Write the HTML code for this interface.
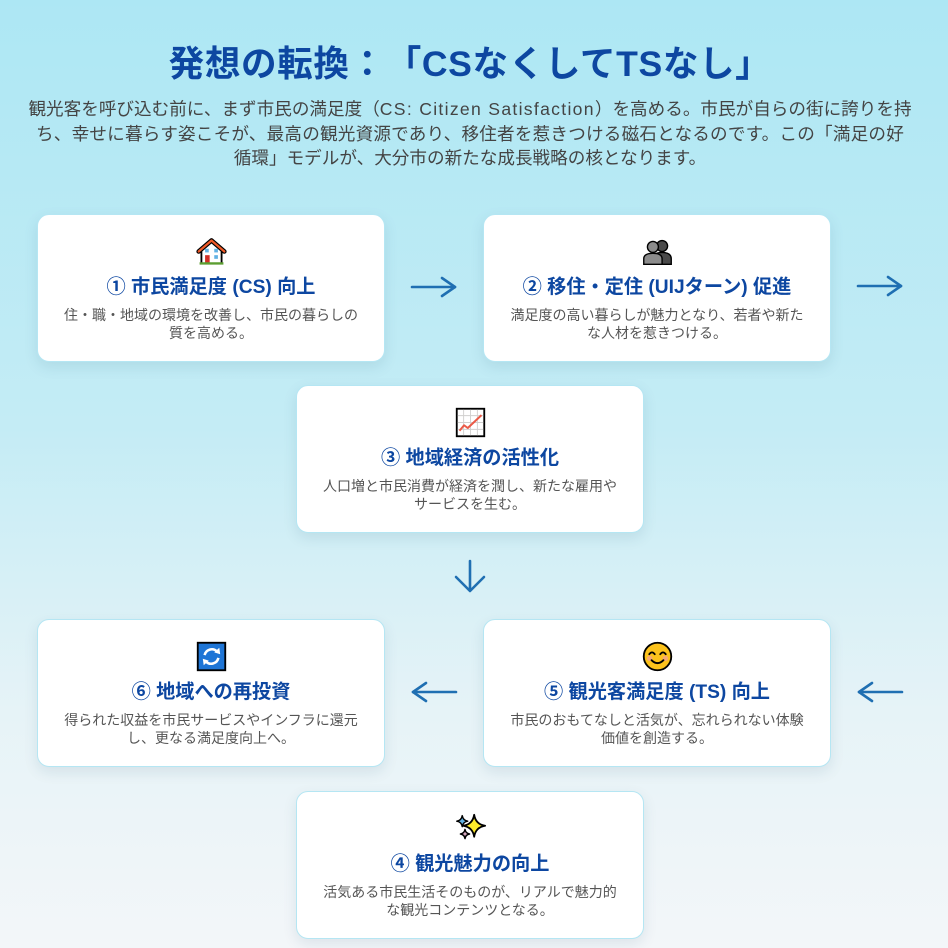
<!DOCTYPE html>
<html lang="ja">
<head>
<meta charset="utf-8">
<style>
  html,body{margin:0;padding:0;}
  body{
    width:948px;height:948px;overflow:hidden;position:relative;
    background:linear-gradient(to bottom,#ade7f4 0%,#c4ecf5 45%,#e6f3f7 75%,#f3f6f9 100%);
    font-family:"Liberation Sans","Noto Sans CJK JP",sans-serif;
    text-spacing-trim:space-all;
  }
  .title{
    position:absolute;left:0;top:42px;width:940px;text-align:center;
    font-size:35.6px;line-height:44px;font-weight:bold;color:#0d47a1;white-space:nowrap;
    letter-spacing:0.6px;text-spacing-trim:space-all;
  }
  .lead{
    position:absolute;left:0;top:97px;width:940px;text-align:center;
    font-size:17.6px;line-height:24.5px;color:#444;white-space:nowrap;
    text-spacing-trim:space-all;
  }
  .lead .lat{letter-spacing:1.3px;}
  .lead .l2{letter-spacing:0.2px;}
  .card{
    position:absolute;width:348px;height:148px;box-sizing:border-box;
    background:#fff;border:1px solid #b5e6f3;border-radius:12px;
    box-shadow:0 5px 14px rgba(20,70,100,0.10);
  }
  .card svg.ic{position:absolute;left:157px;top:20px;width:33px;height:33px;}
  .card .t{
    position:absolute;left:0;top:61px;width:100%;text-align:center;
    font-size:19.2px;line-height:24px;font-weight:bold;color:#0d47a1;white-space:nowrap;
  }
  .card .d{
    position:absolute;left:0;top:91px;width:100%;text-align:center;
    font-size:14px;line-height:18px;color:#555;white-space:nowrap;
  }
  svg.arrows{position:absolute;left:0;top:0;width:948px;height:948px;}
</style>
</head>
<body>

<div class="title">発想の転換：「CSなくしてTSなし」</div>
<div class="lead">観光客を呼び込む前に、まず市民の満足度（<span class="lat">CS: Citizen Satisfaction</span>）を高める。市民が自らの街に誇りを持<br><span class="l2">ち、幸せに暮らす姿こそが、最高の観光資源であり、移住者を惹きつける磁石となるのです。この「満足の好</span><br>循環」モデルが、大分市の新たな成長戦略の核となります。</div>

<!-- Card 1 -->
<div class="card" style="left:37px;top:214px;">
  <svg class="ic" viewBox="0 0 36 36">
    <path d="M7 17 V31 H29 V17" fill="#fff" stroke="#000" stroke-width="2"/>
    <path d="M4 18 L18 6 L32 18" fill="none" stroke="#000" stroke-width="5" stroke-linejoin="round" stroke-linecap="round"/>
    <path d="M4 18 L18 6 L32 18" fill="none" stroke="#f05a28" stroke-width="2.4" stroke-linejoin="round" stroke-linecap="round"/>
    <rect x="11" y="15" width="4" height="4" fill="#61b2e4"/>
    <rect x="21" y="15" width="4" height="4" fill="#61b2e4"/>
    <rect x="21" y="22" width="4" height="4" fill="#61b2e4"/>
    <rect x="11" y="22" width="5" height="9" fill="#d22f27"/>
    <line x1="5" y1="31" x2="31" y2="31" stroke="#5c9e31" stroke-width="2.5"/>
  </svg>
  <div class="t">① 市民満足度 (CS) 向上</div>
  <div class="d">住・職・地域の環境を改善し、市民の暮らしの<br>質を高める。</div>
</div>

<!-- Card 2 -->
<div class="card" style="left:483px;top:214px;">
  <svg class="ic" viewBox="0 0 36 36">
    <circle cx="23" cy="12" r="6" fill="#4a4a4a" stroke="#000" stroke-width="1.5"/>
    <path d="M13 32 V26 Q13 19 23 19 Q33 19 33 26 V32 Z" fill="#4a4a4a" stroke="#000" stroke-width="1.5"/>
    <circle cx="13" cy="13" r="6" fill="#8c8c8c" stroke="#000" stroke-width="1.5"/>
    <path d="M3 32 V26 Q3 20 13 20 Q23 20 23 26 V32 Z" fill="#8c8c8c" stroke="#000" stroke-width="1.5"/>
  </svg>
  <div class="t">② 移住・定住 (UIJターン) 促進</div>
  <div class="d">満足度の高い暮らしが魅力となり、若者や新た<br>な人材を惹きつける。</div>
</div>

<!-- Card 3 -->
<div class="card" style="left:296px;top:385px;">
  <svg class="ic" viewBox="0 0 36 36">
    <rect x="3" y="3" width="30" height="30" fill="#fff" stroke="#000" stroke-width="2"/>
    <g stroke="#d0cfce" stroke-width="1">
      <line x1="10.5" y1="4" x2="10.5" y2="32"/><line x1="18" y1="4" x2="18" y2="32"/><line x1="25.5" y1="4" x2="25.5" y2="32"/>
      <line x1="4" y1="10.5" x2="32" y2="10.5"/><line x1="4" y1="18" x2="32" y2="18"/><line x1="4" y1="25.5" x2="32" y2="25.5"/>
    </g>
    <polyline points="6,27 11,21 15,24 30,10" fill="none" stroke="#ea5a47" stroke-width="2.2" stroke-linejoin="round"/>
  </svg>
  <div class="t">③ 地域経済の活性化</div>
  <div class="d">人口増と市民消費が経済を潤し、新たな雇用や<br>サービスを生む。</div>
</div>

<!-- Card 6 -->
<div class="card" style="left:37px;top:619px;">
  <svg class="ic" viewBox="0 0 36 36">
    <rect x="3" y="3" width="30" height="30" fill="#1e75d6" stroke="#000" stroke-width="2"/>
    <path d="M10.5 16.5 A8 8 0 0 1 24 12.5" fill="none" stroke="#fff" stroke-width="2.8"/>
    <polygon points="26.5,8.5 27.5,15.5 21,13.5" fill="#fff"/>
    <path d="M25.5 19.5 A8 8 0 0 1 12 23.5" fill="none" stroke="#fff" stroke-width="2.8"/>
    <polygon points="9.5,27.5 8.5,20.5 15,22.5" fill="#fff"/>
  </svg>
  <div class="t">⑥ 地域への再投資</div>
  <div class="d">得られた収益を市民サービスやインフラに還元<br>し、更なる満足度向上へ。</div>
</div>

<!-- Card 5 -->
<div class="card" style="left:483px;top:619px;">
  <svg class="ic" viewBox="0 0 36 36">
    <circle cx="18" cy="18" r="15" fill="#fcc21b" stroke="#000" stroke-width="2"/>
    <circle cx="9.5" cy="20" r="3" fill="#f4a38a" opacity="0.8"/>
    <circle cx="26.5" cy="20" r="3" fill="#f4a38a" opacity="0.8"/>
    <path d="M9 15.5 Q12 11.5 15 15.5" fill="none" stroke="#000" stroke-width="2" stroke-linecap="round"/>
    <path d="M21 15.5 Q24 11.5 27 15.5" fill="none" stroke="#000" stroke-width="2" stroke-linecap="round"/>
    <path d="M11.5 22 Q18 28.5 24.5 22" fill="none" stroke="#000" stroke-width="2" stroke-linecap="round"/>
  </svg>
  <div class="t">⑤ 観光客満足度 (TS) 向上</div>
  <div class="d">市民のおもてなしと活気が、忘れられない体験<br>価値を創造する。</div>
</div>

<!-- Card 4 -->
<div class="card" style="left:296px;top:791px;">
  <svg class="ic" viewBox="0 0 36 36">
    <path d="M9 4 Q9.8 9.2 15 10 Q9.8 10.8 9 16 Q8.2 10.8 3 10 Q8.2 9.2 9 4 Z" fill="#61b2e4" stroke="#000" stroke-width="1.6" stroke-linejoin="round"/>
    <path d="M12 19 Q12.7 23.3 17 24 Q12.7 24.7 12 29 Q11.3 24.7 7 24 Q11.3 23.3 12 19 Z" fill="#d4a6bd" stroke="#000" stroke-width="1.6" stroke-linejoin="round"/>
    <path d="M22 3 Q23.6 13.4 34 15 Q23.6 16.6 22 27 Q20.4 16.6 10 15 Q20.4 13.4 22 3 Z" fill="#fcea2b" stroke="#000" stroke-width="2" stroke-linejoin="round"/>
  </svg>
  <div class="t">④ 観光魅力の向上</div>
  <div class="d">活気ある市民生活そのものが、リアルで魅力的<br>な観光コンテンツとなる。</div>
</div>

<svg class="arrows" viewBox="0 0 948 948">
  <g fill="none" stroke="#1f6fb2" stroke-width="2.6" stroke-linecap="round" stroke-linejoin="round">
    <line x1="412" y1="287" x2="455" y2="287"/>
    <polyline points="442,278 455,287 442,296"/>
    <line x1="858" y1="286" x2="901" y2="286"/>
    <polyline points="888,277 901,286 888,295"/>
    <line x1="470" y1="561" x2="470" y2="590"/>
    <polyline points="456,577 470,591 484,577"/>
    <line x1="413" y1="692" x2="456" y2="692"/>
    <polyline points="426,683 413,692 426,701"/>
    <line x1="859" y1="692" x2="902" y2="692"/>
    <polyline points="872,683 859,692 872,701"/>
  </g>
</svg>

</body>
</html>
